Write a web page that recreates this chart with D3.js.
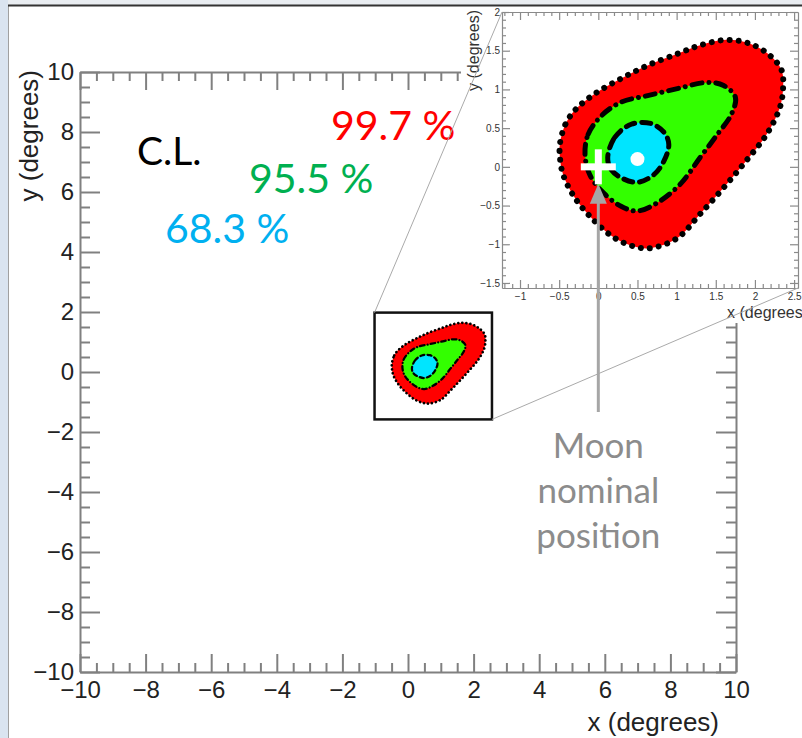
<!DOCTYPE html>
<html><head><meta charset="utf-8">
<script src="https://cdn.jsdelivr.net/npm/d3@7"></script>
<style>
html,body{margin:0;padding:0;background:#fff;}
svg{display:block;}
</style></head>
<body>
<script>
// ---------- data ----------
const redContour = [[-0.49,0.30],[-0.42,0.55],[-0.30,0.73],[-0.05,0.94],[0.29,1.14],[0.63,1.31],[1.01,1.46],[1.30,1.57],[1.64,1.64],[1.94,1.59],[2.19,1.44],[2.34,1.25],[2.36,1.03],[2.32,0.77],[2.15,0.42],[1.89,0.08],[1.60,-0.27],[1.30,-0.61],[1.01,-0.92],[0.67,-1.05],[0.46,-1.03],[0.21,-0.92],[-0.05,-0.70],[-0.30,-0.40],[-0.45,-0.10],[-0.49,0.12]];
const greenContour = [[-0.17,0.16],[-0.13,0.42],[0.04,0.66],[0.29,0.835],[0.63,0.92],[1.01,1.01],[1.39,1.09],[1.60,1.05],[1.75,0.90],[1.70,0.68],[1.52,0.42],[1.30,0.12],[1.05,-0.22],[0.76,-0.46],[0.50,-0.57],[0.29,-0.51],[0.04,-0.31],[-0.11,-0.10]];
const cyanContour = [[0.12,0.12],[0.21,0.38],[0.42,0.55],[0.67,0.56],[0.84,0.445],[0.90,0.29],[0.84,0.08],[0.71,-0.10],[0.50,-0.20],[0.29,-0.14],[0.16,-0.03]];
const bestFit = [0.5, 0.1];
const moonPos = [0, 0];
const clLabels = ["99.7 %","95.5 %","68.3 %"];
const mainMajorTicks = [-10,-8,-6,-4,-2,0,2,4,6,8,10];
const insetXTicks = [-1,-0.5,0,0.5,1,1.5,2,2.5];
const insetYTicks = [-1.5,-1,-0.5,0,0.5,1,1.5,2];
const zoomBox = {x:[-1.02,2.56], y:[-1.58,1.98]};
const insetDomain = {x:[-1.23,2.55], y:[-1.565,2]};

// ---------- setup ----------
const W=802,H=738;
const svg=d3.select("body").append("svg").attr("width",W).attr("height",H);
svg.append("rect").attr("width",W).attr("height",H).attr("fill","#e9edf1");
svg.append("rect").attr("x",0).attr("y",0).attr("width",8).attr("height",H).attr("fill","#dae4f0");
svg.append("rect").attr("x",8).attr("y",6).attr("width",W-8).attr("height",H-6).attr("fill","#fff");
svg.append("line").attr("x1",8.5).attr("x2",8.5).attr("y1",5).attr("y2",H).attr("stroke","#a0a0a0").attr("stroke-width",1);
svg.append("line").attr("x1",8).attr("x2",W).attr("y1",5.5).attr("y2",5.5).attr("stroke","#333").attr("stroke-width",2);

const fmt = d => (d<0 ? "\u2212"+(-d) : String(d));
const x=d3.scaleLinear().domain([-10,10]).range([80,736]);
const y=d3.scaleLinear().domain([-10,10]).range([672,72]);
const minorMain = d3.range(-10,10.001,0.5).filter(v=>Math.abs(v/2-Math.round(v/2))>1e-6);

const axisColor="#808080";
function styleAxis(g,sw,fs,fam){
  g.selectAll("path,line").attr("stroke",axisColor).attr("stroke-width",sw);
  g.selectAll("text").attr("fill","#222").style("font-family",fam).style("font-size",fs+"px");
}
const mainG=svg.append("g");
const F="'Liberation Sans', Arial, sans-serif";
// bottom
let g=mainG.append("g").attr("transform",`translate(0,${y(-10)})`)
 .call(d3.axisBottom(x).tickValues(mainMajorTicks).tickSizeInner(-18).tickSizeOuter(0).tickPadding(9).tickFormat(fmt));
styleAxis(g,2,24,F);
g=mainG.append("g").attr("transform",`translate(0,${y(-10)})`)
 .call(d3.axisBottom(x).tickValues(minorMain).tickSizeInner(-9).tickSizeOuter(0).tickFormat(""));
styleAxis(g,2,24,F); g.select(".domain").remove();
// top
g=mainG.append("g").attr("transform",`translate(0,${y(10)})`)
 .call(d3.axisTop(x).tickValues(mainMajorTicks).tickSizeInner(-18).tickSizeOuter(0).tickFormat(""));
styleAxis(g,2,24,F);
g=mainG.append("g").attr("transform",`translate(0,${y(10)})`)
 .call(d3.axisTop(x).tickValues(minorMain).tickSizeInner(-9).tickSizeOuter(0).tickFormat(""));
styleAxis(g,2,24,F); g.select(".domain").remove();
// left
g=mainG.append("g").attr("transform",`translate(${x(-10)},0)`)
 .call(d3.axisLeft(y).tickValues(mainMajorTicks).tickSizeInner(-20).tickSizeOuter(0).tickPadding(6).tickFormat(fmt));
styleAxis(g,2,24,F);
g=mainG.append("g").attr("transform",`translate(${x(-10)},0)`)
 .call(d3.axisLeft(y).tickValues(minorMain).tickSizeInner(-10).tickSizeOuter(0).tickFormat(""));
styleAxis(g,2,24,F); g.select(".domain").remove();
// right
g=mainG.append("g").attr("transform",`translate(${x(10)},0)`)
 .call(d3.axisRight(y).tickValues(mainMajorTicks).tickSizeInner(-20).tickSizeOuter(0).tickFormat(""));
styleAxis(g,2,24,F);
g=mainG.append("g").attr("transform",`translate(${x(10)},0)`)
 .call(d3.axisRight(y).tickValues(minorMain).tickSizeInner(-10).tickSizeOuter(0).tickFormat(""));
styleAxis(g,2,24,F); g.select(".domain").remove();

// axis titles
svg.append("text").attr("x",719).attr("y",731).attr("text-anchor","end")
 .style("font-family",F).style("font-size","26px").attr("fill","#222").text("x (degrees)");
svg.append("text").attr("transform","translate(38,70) rotate(-90)").attr("text-anchor","end")
 .style("font-family",F).style("font-size","26px").attr("fill","#222").text("y (degrees)");

// contours drawer
const curve=d3.curveCatmullRomClosed.alpha(0.5);
function drawContours(parent,sx,sy,k){
  const line=d3.line().x(d=>sx(d[0])).y(d=>sy(d[1])).curve(curve);
  parent.append("path").attr("d",line(redContour)).attr("fill","#ff0000");
  parent.append("path").attr("d",line(redContour)).attr("fill","none").attr("stroke","#000")
    .attr("stroke-width",6*k).attr("stroke-linecap","round").attr("stroke-dasharray",`0.01 ${9*k}`);
  parent.append("path").attr("d",line(greenContour)).attr("fill","#33ff00");
  parent.append("path").attr("d",line(greenContour)).attr("fill","none").attr("stroke","#000")
    .attr("stroke-width",5*k).attr("stroke-linecap","round").attr("stroke-dasharray",`${10*k} ${7*k} 0.01 ${7*k}`);
  parent.append("path").attr("d",line(cyanContour)).attr("fill","#00e5ff");
  parent.append("path").attr("d",line(cyanContour)).attr("fill","none").attr("stroke","#000")
    .attr("stroke-width",5*k).attr("stroke-linecap","round").attr("stroke-dasharray",`${9*k} ${7*k}`);
}

// annotation texts
const TF="Lato, 'Open Sans', sans-serif";
svg.append("text").attr("x",137).attr("y",165).style("font-family",TF).style("font-size","39px").attr("fill","#000").text("C.L.");
const clCols=["#ff0000","#00b050","#00b0f0"];
const clPos=[[331,140],[249,193],[165,243]];
clLabels.forEach((t,i)=>svg.append("text").attr("x",clPos[i][0]).attr("y",clPos[i][1])
  .style("font-family",TF).style("font-size","41px").attr("fill",clCols[i]).text(t));

// ---------- inset ----------
const ins=svg.append("g");
ins.append("rect").attr("x",461).attr("y",7).attr("width",W-461).attr("height",316).attr("fill","#fff");

// main small contours + zoom box drawn above the inset background
const smallG=svg.append("g");
drawContours(smallG,x,y,0.45);
smallG.append("rect").attr("x",x(zoomBox.x[0])).attr("y",y(zoomBox.y[1]))
 .attr("width",x(zoomBox.x[1])-x(zoomBox.x[0])).attr("height",y(zoomBox.y[0])-y(zoomBox.y[1]))
 .attr("fill","none").attr("stroke","#111").attr("stroke-width",2.5);

const ix=d3.scaleLinear().domain(insetDomain.x).range([502,798]);
const iy=d3.scaleLinear().domain(insetDomain.y).range([288,12]);
drawContours(ins,ix,iy,1);
ins.append("circle").attr("cx",ix(bestFit[0])).attr("cy",iy(bestFit[1])).attr("r",7).attr("fill","#fff");
const cx=ix(moonPos[0]), cy=iy(moonPos[1]);
ins.append("rect").attr("x",cx-17.5).attr("y",cy-3.5).attr("width",35).attr("height",7).attr("fill","#fff");
ins.append("rect").attr("x",cx-3.5).attr("y",cy-17.5).attr("width",7).attr("height",35).attr("fill","#fff");

const minorIX=d3.range(-1.2,2.56,0.1).map(v=>Math.round(v*10)/10).filter(v=>Math.abs(v*2-Math.round(v*2))>1e-6);
const minorIY=d3.range(-1.5,2.01,0.1).map(v=>Math.round(v*10)/10).filter(v=>Math.abs(v*2-Math.round(v*2))>1e-6);
const IF="'Liberation Sans', Arial, sans-serif";
function ax(gen,tr,vals,size,lab,pad){
  const gg=ins.append("g").attr("transform",tr).call(gen.tickValues(vals).tickSizeInner(size).tickSizeOuter(0).tickPadding(pad||3).tickFormat(lab?fmt:""));
  gg.selectAll("path,line").attr("stroke","#8a8a8a").attr("stroke-width",1.2);
  gg.selectAll("text").attr("fill","#333").style("font-family",IF).style("font-size","10px");
  return gg;
}
ax(d3.axisBottom(ix),`translate(0,${iy.range()[0]})`,insetXTicks,-8,true,5);
ax(d3.axisBottom(ix),`translate(0,${iy.range()[0]})`,minorIX,-4,false).select(".domain").remove();
ax(d3.axisTop(ix),`translate(0,${iy.range()[1]})`,insetXTicks,-8,false);
ax(d3.axisTop(ix),`translate(0,${iy.range()[1]})`,minorIX,-4,false).select(".domain").remove();
ax(d3.axisLeft(iy),`translate(${ix.range()[0]},0)`,insetYTicks,-8,true,2);
ax(d3.axisLeft(iy),`translate(${ix.range()[0]},0)`,minorIY,-4,false).select(".domain").remove();
ax(d3.axisRight(iy),`translate(${ix.range()[1]},0)`,insetYTicks,-8,false);
ax(d3.axisRight(iy),`translate(${ix.range()[1]},0)`,minorIY,-4,false).select(".domain").remove();
ins.append("text").attr("x",808).attr("y",318).attr("text-anchor","end")
 .style("font-family",IF).style("font-size","16px").attr("fill","#333").text("x (degrees)");
ins.append("text").attr("transform","translate(479,10) rotate(-90)").attr("text-anchor","end")
 .style("font-family",IF).style("font-size","16px").attr("fill","#333").text("y (degrees)");

// connector lines
svg.append("line").attr("x1",x(zoomBox.x[0])).attr("y1",y(zoomBox.y[1])).attr("x2",ix.range()[0]).attr("y2",iy.range()[1])
 .attr("stroke","#aaa").attr("stroke-width",1);
svg.append("line").attr("x1",x(zoomBox.x[1])).attr("y1",y(zoomBox.y[0])).attr("x2",ix.range()[1]).attr("y2",iy.range()[0])
 .attr("stroke","#aaa").attr("stroke-width",1);

// arrow + moon text
const arrowCol="#a6a6a6";
svg.append("line").attr("x1",cx).attr("x2",cx).attr("y1",412).attr("y2",198).attr("stroke",arrowCol).attr("stroke-width",3);
svg.append("path").attr("d",`M${cx},${cy+17} L${cx-8.5},${cy+37} L${cx+8.5},${cy+37} Z`).attr("fill",arrowCol);
["Moon","nominal","position"].forEach((t,i)=>svg.append("text").attr("x",cx).attr("y",458+45*i)
  .attr("text-anchor","middle").style("font-family",TF).style("font-size","35px").attr("fill","#8c8c8c").text(t));
</script>
</body></html>
